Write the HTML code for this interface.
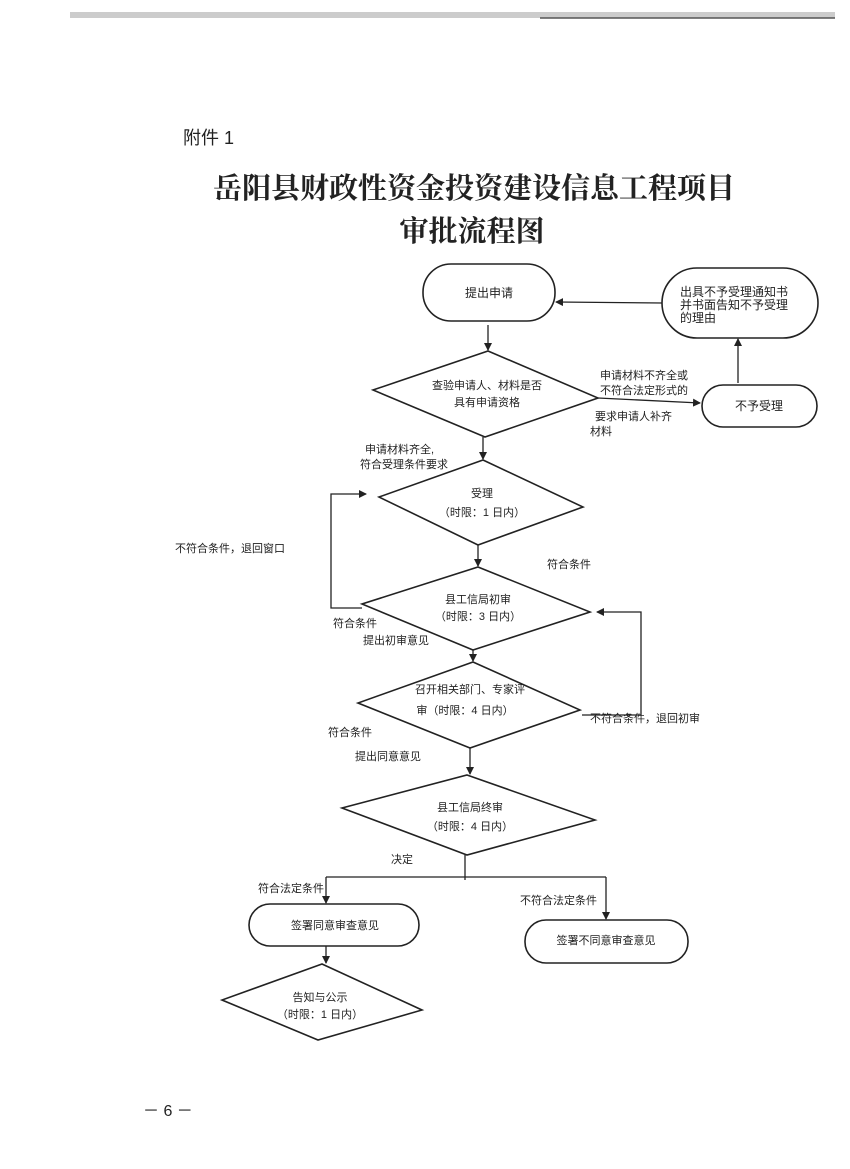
<!DOCTYPE html>
<html><head><meta charset="utf-8"><style>
html,body{margin:0;padding:0;background:#fff;}
svg{display:block;}
text{font-family:"Liberation Sans","Noto Sans CJK SC",sans-serif;fill:#222;}
.t{font-size:11px;}
</style></head><body>
<svg width="850" height="1169" viewBox="0 0 850 1169" xmlns="http://www.w3.org/2000/svg">
<defs><marker id="a" markerWidth="8" markerHeight="8" refX="7" refY="4" orient="auto" markerUnits="userSpaceOnUse"><path d="M0,0 L8,4 L0,8 z" fill="#222"/></marker></defs>
<rect x="70" y="12" width="765" height="6" fill="#ccc"/>
<line x1="540" y1="18" x2="835" y2="18" stroke="#555" stroke-width="1.5"/>
<text x="183" y="144" style="font-size:18px">附件 1</text>
<text x="474" y="198" text-anchor="middle" style="font-family:'Liberation Serif','Noto Serif CJK SC',serif;font-size:29px;font-weight:bold" textLength="522">岳阳县财政性资金投资建设信息工程项目</text>
<text x="472" y="241" text-anchor="middle" style="font-family:'Liberation Serif','Noto Serif CJK SC',serif;font-size:29px;font-weight:bold">审批流程图</text>
<g fill="none" stroke="#222" stroke-width="1.6">
<rect x="423" y="264" width="132" height="57" rx="28"/>
<rect x="662" y="268" width="156" height="70" rx="35"/>
<rect x="702" y="385" width="115" height="42" rx="21"/>
<rect x="249" y="904" width="170" height="42" rx="21"/>
<rect x="525" y="920" width="163" height="43" rx="21"/>
<polygon points="488,351 598,398 485,437 373,390"/>
<polygon points="483,460 583,507 478,545 379,497"/>
<polygon points="478,567 590,612 473,650 362,604"/>
<polygon points="473,662 580,710 470,748 358,703"/>
<polygon points="467,775 595,820 467,855 342,808"/>
<polygon points="322,964 422,1010 318,1040 222,1000"/>
</g>
<g fill="none" stroke="#222" stroke-width="1.3" marker-end="url(#a)">
<line x1="662" y1="303" x2="556" y2="302"/>
<line x1="488" y1="325" x2="488" y2="350"/>
<line x1="598" y1="398" x2="700" y2="403"/>
<line x1="738" y1="383" x2="738" y2="339"/>
<line x1="483" y1="437" x2="483" y2="459"/>
<polyline points="362,608 331,608 331,494 366,494"/>
<line x1="478" y1="545" x2="478" y2="566"/>
<polyline points="582,715 641,715 641,612 597,612"/>
<line x1="473" y1="650" x2="473" y2="661"/>
<line x1="470" y1="748" x2="470" y2="774"/>
<line x1="326" y1="877" x2="326" y2="903"/>
<line x1="606" y1="877" x2="606" y2="919"/>
<line x1="326" y1="946" x2="326" y2="963"/>
</g>
<g fill="none" stroke="#222" stroke-width="1.3">
<line x1="465" y1="855" x2="465" y2="880"/>
<line x1="326" y1="877" x2="606" y2="877"/>
</g>
<g class="t">
<text x="489" y="297" text-anchor="middle" style="font-size:12px">提出申请</text>
<text x="680" y="296" style="font-size:12px">出具不予受理通知书</text>
<text x="680" y="309" style="font-size:12px">并书面告知不予受理</text>
<text x="680" y="322" style="font-size:12px">的理由</text>
<text x="759" y="410" text-anchor="middle" style="font-size:12px">不予受理</text>
<text x="487" y="389" text-anchor="middle">查验申请人、材料是否</text>
<text x="487" y="406" text-anchor="middle">具有申请资格</text>
<text x="600" y="379">申请材料不齐全或</text>
<text x="600" y="394">不符合法定形式的</text>
<text x="595" y="420">要求申请人补齐</text>
<text x="590" y="435">材料</text>
<text x="365" y="453">申请材料齐全,</text>
<text x="360" y="468">符合受理条件要求</text>
<text x="482" y="497" text-anchor="middle">受理</text>
<text x="482" y="516" text-anchor="middle">（时限：1 日内）</text>
<text x="175" y="552">不符合条件，退回窗口</text>
<text x="547" y="568">符合条件</text>
<text x="478" y="603" text-anchor="middle">县工信局初审</text>
<text x="478" y="620" text-anchor="middle">（时限：3 日内）</text>
<text x="333" y="627">符合条件</text>
<text x="363" y="644">提出初审意见</text>
<text x="470" y="693" text-anchor="middle">召开相关部门、专家评</text>
<text x="465" y="714" text-anchor="middle">审（时限：4 日内）</text>
<text x="590" y="722">不符合条件，退回初审</text>
<text x="328" y="736">符合条件</text>
<text x="355" y="760">提出同意意见</text>
<text x="470" y="811" text-anchor="middle">县工信局终审</text>
<text x="470" y="830" text-anchor="middle">（时限：4 日内）</text>
<text x="391" y="863">决定</text>
<text x="258" y="892">符合法定条件</text>
<text x="520" y="904">不符合法定条件</text>
<text x="335" y="929" text-anchor="middle">签署同意审查意见</text>
<text x="606" y="944" text-anchor="middle">签署不同意审查意见</text>
<text x="320" y="1001" text-anchor="middle">告知与公示</text>
<text x="320" y="1018" text-anchor="middle">（时限：1 日内）</text>
</g>
<text x="143" y="1116" style="font-size:16px">－ 6 －</text>
</svg>
</body></html>
